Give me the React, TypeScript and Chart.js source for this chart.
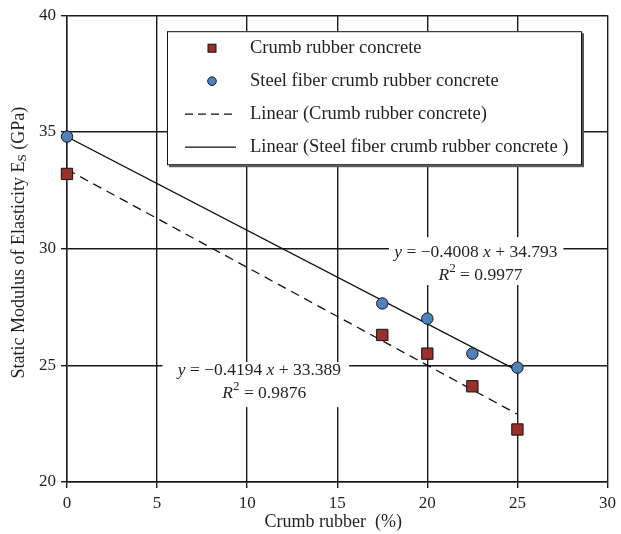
import React, { useEffect, useRef } from "react";
import { Chart, registerables } from "chart.js";

Chart.register(...registerables);

// ---- data ----
const crumbRubberPct = [0, 17.5, 20, 22.5, 25];
const crumbRubberConcrete = [33.2, 26.3, 25.5, 24.1, 22.25];
const steelFiberConcrete = [34.8, 27.65, 27.0, 25.5, 24.9];

const crumbFitSlope = -0.4194;
const crumbFitIntercept = 33.389;
const crumbFitR2 = 0.9876;
const steelFitSlope = -0.4008;
const steelFitIntercept = 34.793;
const steelFitR2 = 0.9977;
const fitRange = [0, 25];

const xMin = 0, xMax = 30, xStep = 5;
const yMin = 20, yMax = 40, yStep = 5;

const legendLabels = [
  "Crumb rubber concrete",
  "Steel fiber crumb rubber concrete",
  "Linear (Crumb rubber concrete)",
  "Linear (Steel fiber crumb rubber concrete )",
];
const xTitle = "Crumb rubber  (%)";
const yTitleMain = "Static Modulus of Elasticity E";
const yTitleSub = "S";
const yTitleEnd = " (GPa)";

// ---- styles ----
const FONT = "'Liberation Serif', 'Times New Roman', serif";
const TEXT = "#231f20";
const GRID = "#1a1a1a";
const RED = "#9a302c";
const BLUE = "#4f81bd";

type Run = { text: string; italic?: boolean; sup?: boolean; sub?: boolean };

function fontFor(r: Run, size: number) {
  const s = r.sup || r.sub ? Math.round(size * 0.72) : size;
  return `${r.italic ? "italic " : ""}${s}px ${FONT}`;
}

function measureRuns(ctx: CanvasRenderingContext2D, runs: Run[], size: number) {
  return runs.map((r) => {
    ctx.font = fontFor(r, size);
    return ctx.measureText(r.text).width;
  });
}

function drawRuns(ctx: CanvasRenderingContext2D, runs: Run[], x0: number, cy: number, size: number, center = true) {
  const widths = measureRuns(ctx, runs, size);
  const total = widths.reduce((a, b) => a + b, 0);
  let x = center ? x0 - total / 2 : x0;
  ctx.textBaseline = "middle";
  ctx.textAlign = "left";
  runs.forEach((r, i) => {
    ctx.font = fontFor(r, size);
    const dy = r.sup ? -size * 0.38 : r.sub ? size * 0.22 : 0;
    ctx.fillText(r.text, x, cy + dy);
    x += widths[i];
  });
}

function fmtNum(v: number) {
  return Math.abs(v).toString();
}

function eqRuns(slope: number, intercept: number): Run[] {
  return [
    { text: "y", italic: true },
    { text: ` = ${slope < 0 ? "\u2212" : ""}${fmtNum(slope)} ` },
    { text: "x", italic: true },
    { text: ` ${intercept < 0 ? "\u2212" : "+"} ${fmtNum(intercept)}` },
  ];
}

function r2Runs(r2: number): Run[] {
  return [{ text: "R", italic: true }, { text: "2", sup: true }, { text: ` = ${r2.toFixed(4)}` }];
}

const annotationPlugin = {
  id: "eqAnnotations",
  beforeDatasetsDraw(chart: any) {
    const ctx: CanvasRenderingContext2D = chart.ctx;
    const xs = chart.scales.x;
    const ys = chart.scales.y;
    const boxes = [
      { x1: 17.87, x2: 27.55, y1: 30.49, y2: 28.44 },
      { x1: 5.3, x2: 15.66, y1: 25.14, y2: 23.21 },
    ];
    ctx.save();
    ctx.fillStyle = "#ffffff";
    boxes.forEach((b) => {
      const l = xs.getPixelForValue(b.x1);
      const r = xs.getPixelForValue(b.x2);
      const t = ys.getPixelForValue(b.y1);
      const bt = ys.getPixelForValue(b.y2);
      ctx.fillRect(l, t, r - l, bt - t);
    });
    ctx.fillStyle = TEXT;
    const size = 17.5;
    drawRuns(ctx, eqRuns(steelFitSlope, steelFitIntercept), xs.getPixelForValue(22.7), ys.getPixelForValue(29.85), size);
    drawRuns(ctx, r2Runs(steelFitR2), xs.getPixelForValue(22.95), ys.getPixelForValue(28.87), size);
    drawRuns(ctx, eqRuns(crumbFitSlope, crumbFitIntercept), xs.getPixelForValue(10.68), ys.getPixelForValue(24.8), size);
    drawRuns(ctx, r2Runs(crumbFitR2), xs.getPixelForValue(10.95), ys.getPixelForValue(23.81), size);
    ctx.restore();
  },
};

const legendTitlesPlugin = {
  id: "customLegendTitles",
  afterDraw(chart: any) {
    const ctx: CanvasRenderingContext2D = chart.ctx;
    const ca = chart.chartArea;
    ctx.save();
    // legend box
    const left = ca.left + 100;
    const top = ca.top + 16;
    const w = 415;
    const h = 134;
    ctx.fillStyle = "#555";
    ctx.fillRect(left + 2, top + 2, w, h);
    ctx.fillStyle = "#fff";
    ctx.fillRect(left, top, w, h);
    ctx.strokeStyle = "#111";
    ctx.lineWidth = 1;
    ctx.strokeRect(left + 0.5, top + 0.5, w - 1, h - 1);

    const rowY = (i: number) => top + 17 + i * 33;
    const mx = left + 45;
    // square marker
    ctx.fillStyle = RED;
    ctx.strokeStyle = "#111";
    ctx.fillRect(mx - 4, rowY(0) - 4, 8, 8);
    ctx.strokeRect(mx - 4, rowY(0) - 4, 8, 8);
    // circle marker
    ctx.beginPath();
    ctx.arc(mx, rowY(1), 4.3, 0, Math.PI * 2);
    ctx.fillStyle = BLUE;
    ctx.fill();
    ctx.stroke();
    // line samples
    ctx.lineWidth = 1.3;
    ctx.strokeStyle = "#111";
    ctx.setLineDash([8, 5]);
    ctx.beginPath();
    ctx.moveTo(left + 18, rowY(2));
    ctx.lineTo(left + 69, rowY(2));
    ctx.stroke();
    ctx.setLineDash([]);
    ctx.beginPath();
    ctx.moveTo(left + 18, rowY(3));
    ctx.lineTo(left + 69, rowY(3));
    ctx.stroke();

    ctx.fillStyle = TEXT;
    ctx.font = `18.5px ${FONT}`;
    ctx.textBaseline = "middle";
    ctx.textAlign = "left";
    legendLabels.forEach((t, i) => ctx.fillText(t, left + 83, rowY(i)));

    // x title
    ctx.textAlign = "center";
    ctx.font = `18px ${FONT}`;
    ctx.fillText(xTitle, (ca.left + ca.right) / 2 - 4, 522);

    // y title (rotated, with subscript)
    ctx.translate(19, (ca.top + ca.bottom) / 2 - 6);
    ctx.rotate(-Math.PI / 2);
    drawRuns(
      ctx,
      [{ text: yTitleMain }, { text: yTitleSub, sub: true }, { text: yTitleEnd }],
      0,
      0,
      18
    );
    ctx.restore();
  },
};

export default function App() {
  const ref = useRef<HTMLCanvasElement | null>(null);

  useEffect(() => {
    if (!ref.current) return;
    const tickFont = { family: FONT, size: 17 };
    const chart = new Chart(ref.current, {
      type: "scatter",
      data: {
        datasets: [
          {
            label: legendLabels[0],
            data: crumbRubberPct.map((x, i) => ({ x, y: crumbRubberConcrete[i] })),
            pointStyle: "rect",
            pointRadius: 8,
            pointBackgroundColor: RED,
            pointBorderColor: "#111",
            pointBorderWidth: 1,
            clip: false,
            order: 0,
          },
          {
            label: legendLabels[1],
            data: crumbRubberPct.map((x, i) => ({ x, y: steelFiberConcrete[i] })),
            pointStyle: "circle",
            pointRadius: 5.7,
            pointBackgroundColor: BLUE,
            pointBorderColor: "#111",
            pointBorderWidth: 1,
            clip: false,
            order: 1,
          },
          {
            label: legendLabels[2],
            data: fitRange.map((x) => ({ x, y: crumbFitSlope * x + crumbFitIntercept })),
            showLine: true,
            pointRadius: 0,
            borderColor: "#111",
            borderWidth: 1.3,
            borderDash: [9, 6],
            order: 2,
          },
          {
            label: legendLabels[3],
            data: fitRange.map((x) => ({ x, y: steelFitSlope * x + steelFitIntercept })),
            showLine: true,
            pointRadius: 0,
            borderColor: "#111",
            borderWidth: 1.3,
            order: 3,
          },
        ],
      },
      options: {
        animation: false,
        responsive: false,
        layout: { padding: { top: 15, right: 11, left: 0, bottom: 0 } },
        plugins: { legend: { display: false }, tooltip: { enabled: false } },
        scales: {
          x: {
            type: "linear",
            min: xMin,
            max: xMax,
            ticks: { stepSize: xStep, font: tickFont, color: TEXT, padding: 5 },
            grid: { color: GRID, lineWidth: 1.4, tickLength: 6 },
            border: { color: GRID, width: 1.4 },
            afterFit: (s: any) => {
              s.height = 52;
            },
          },
          y: {
            type: "linear",
            min: yMin,
            max: yMax,
            ticks: { stepSize: yStep, font: tickFont, color: TEXT, padding: 5 },
            grid: { color: GRID, lineWidth: 1.4, tickLength: 6 },
            border: { color: GRID, width: 1.4 },
            afterFit: (s: any) => {
              s.width = 67;
            },
          },
        },
      },
      plugins: [annotationPlugin, legendTitlesPlugin],
    } as any);
    return () => chart.destroy();
  }, []);

  return (
    <div style={{ position: "fixed", left: 0, top: 0, width: 621, height: 534, background: "#fff" }}>
      <canvas ref={ref} width={621} height={534} style={{ display: "block", width: 621, height: 534 }} />
    </div>
  );
}
